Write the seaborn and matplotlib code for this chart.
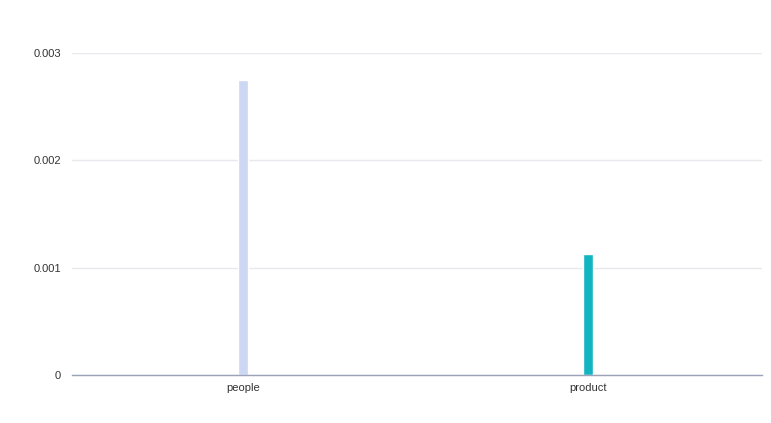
import matplotlib
matplotlib.use("Agg")
import matplotlib.pyplot as plt
import seaborn as sns
import pandas as pd

categories = ["people", "product"]
values = [0.00275, 0.00113]
colors = ["#cdd6f3", "#12b4c1"]

df = pd.DataFrame({"category": categories, "value": values})

sns.set_theme(style="white")
plt.rcParams['font.family'] = ['Liberation Sans', 'DejaVu Sans']

fig = plt.figure(figsize=(7.71, 4.23), dpi=100)
ax = fig.add_axes([72/771, 48/423, 690/771, 322/423])

sns.barplot(data=df, x="category", y="value", hue="category", palette=colors,
            width=0.029, legend=False, ax=ax, saturation=1)

ax.set_ylim(0, 0.003)
ax.set_xlim(-0.497, 1.503)
ax.set_yticks([0, 0.001, 0.002, 0.003])
ax.set_yticklabels(["0", "0.001", "0.002", "0.003"])
ax.yaxis.grid(True, color="#e8e9ee", linewidth=1)
ax.set_axisbelow(True)
for s in ["top", "right", "left"]:
    ax.spines[s].set_visible(False)
ax.spines["bottom"].set_color("#9aa3b8")
ax.spines["bottom"].set_linewidth(1)
ax.tick_params(axis="both", length=0, labelsize=8, colors="#333333")
ax.tick_params(axis="x", pad=6)
ax.tick_params(axis="y", pad=8)
ax.set_xlabel("")
ax.set_ylabel("")

fig.savefig("out.png", dpi=100)
